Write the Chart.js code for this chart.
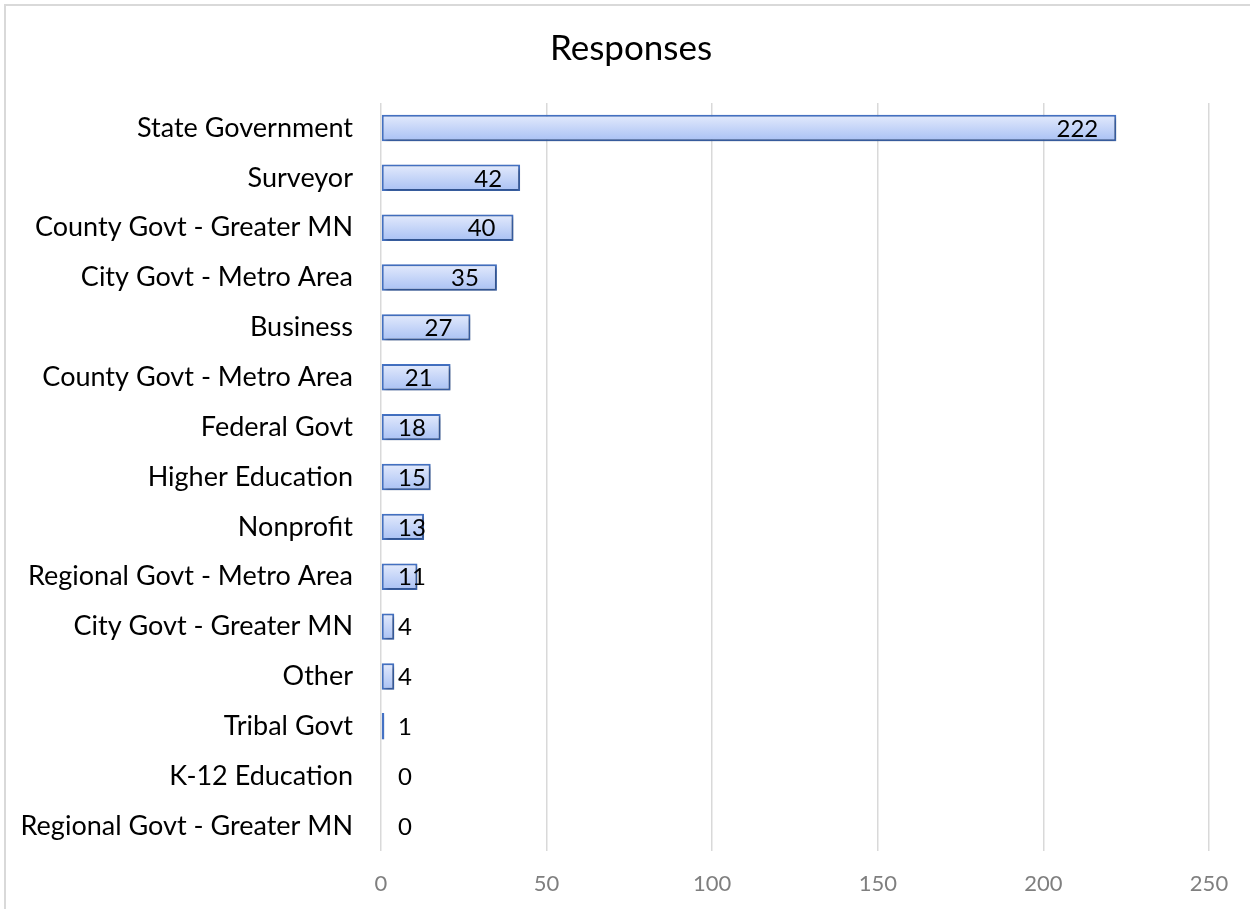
<!DOCTYPE html>
<html>
<head>
<meta charset="utf-8">
<script src="https://cdn.jsdelivr.net/npm/chart.js@4"></script>
<style>
    html, body { margin: 0; padding: 0; background: #fff; }
    #wrap { position: absolute; left: 0; top: 0; width: 1250px; height: 909px; }
</style>
</head>
<body>
<div id="wrap"><canvas id="responsesChart"></canvas></div>
<script>
// categories top to bottom
const categories = [
    'State Government', 'Surveyor', 'County Govt - Greater MN', 'City Govt - Metro Area',
    'Business', 'County Govt - Metro Area', 'Federal Govt', 'Higher Education',
    'Nonprofit', 'Regional Govt - Metro Area', 'City Govt - Greater MN', 'Other',
    'Tribal Govt', 'K-12 Education', 'Regional Govt - Greater MN'
];
const responses = [222, 42, 40, 35, 27, 21, 18, 15, 13, 11, 4, 4, 1, 0, 0];
const xTicks = [0, 50, 100, 150, 200, 250];
const chartTitle = 'Responses';

const FONT = 'Lato, "Open Sans", sans-serif';

// light blue gradient per bar, lighter at the top
function barGradient(context) {
    const chart = context.chart;
    if (!chart.chartArea) return '#c9d8f8';
    const y = chart.scales.y.getPixelForValue(context.dataIndex);
    const half = 13;
    const g = chart.ctx.createLinearGradient(0, y - half, 0, y + half);
    g.addColorStop(0, '#e3eafc');
    g.addColorStop(1, '#a9c1f4');
    return g;
}

// frame around the chart, title centred on the frame, soft shadow under the bars
const frameAndShadow = {
    id: 'frameAndShadow',
    beforeDraw(chart) {
        const ctx = chart.ctx;
        ctx.save();
        ctx.strokeStyle = '#d9d9d9';
        ctx.lineWidth = 2;
        ctx.strokeRect(5, 5, chart.width + 10, chart.height + 10);
        ctx.font = '35px ' + FONT;
        ctx.fillStyle = '#000';
        ctx.textAlign = 'center';
        ctx.textBaseline = 'alphabetic';
        ctx.fillText(chartTitle, 631, 60);
        ctx.restore();
    },
    beforeDatasetDraw(chart) {
        const ctx = chart.ctx;
        ctx.save();
        ctx.shadowColor = 'rgba(0,0,0,0.35)';
        ctx.shadowBlur = 4;
        ctx.shadowOffsetX = 2;
        ctx.shadowOffsetY = 2;
    },
    afterDatasetDraw(chart) {
        chart.ctx.restore();
    }
};

// value labels at the inner end of each bar, kept clear of the axis
const valueLabels = {
    id: 'valueLabels',
    afterDatasetsDraw(chart) {
        const ctx = chart.ctx;
        const meta = chart.getDatasetMeta(0);
        const left = chart.chartArea.left;
        ctx.save();
        ctx.font = '24px ' + FONT;
        ctx.fillStyle = '#000';
        ctx.textBaseline = 'middle';
        ctx.textAlign = 'left';
        meta.data.forEach((bar, i) => {
            const txt = String(responses[i]);
            const w = ctx.measureText(txt).width;
            const x = Math.max(bar.x - 18 - w, left + 17);
            ctx.fillText(txt, x, bar.y + 1);
        });
        ctx.restore();
    }
};

const ctx = document.getElementById('responsesChart').getContext('2d');

new Chart(ctx, {
    type: 'bar',
    data: {
        labels: categories,
        datasets: [{
            label: 'Responses',
            data: responses,
            backgroundColor: barGradient,
            borderColor: '#4472c4',
            borderWidth: 2,
            borderSkipped: false,
            barPercentage: 0.53,
            categoryPercentage: 1
        }]
    },
    options: {
        indexAxis: 'y',
        responsive: true,
        maintainAspectRatio: false,
        animation: false,
        layout: {
            padding: { left: 0, right: 41, top: 103, bottom: 0 }
        },
        scales: {
            x: {
                min: 0,
                max: 250,
                afterBuildTicks: scale => { scale.ticks = xTicks.map(v => ({ value: v })); },
                afterFit: scale => { scale.height = 58; },
                grid: { color: '#d9d9d9', lineWidth: 1.5, drawTicks: false },
                border: { display: false },
                ticks: {
                    color: '#7f7f7f',
                    font: { family: FONT, size: 22 },
                    padding: 20
                }
            },
            y: {
                afterFit: scale => { scale.width = 381; },
                grid: { display: false },
                border: { display: false },
                ticks: {
                    color: '#000',
                    font: { family: FONT, size: 27 },
                    padding: 20,
                    autoSkip: false
                }
            }
        },
        plugins: {
            legend: { display: false },
            tooltip: { enabled: false },
            title: { display: false }
        }
    },
    plugins: [frameAndShadow, valueLabels]
});
</script>
</body>
</html>
